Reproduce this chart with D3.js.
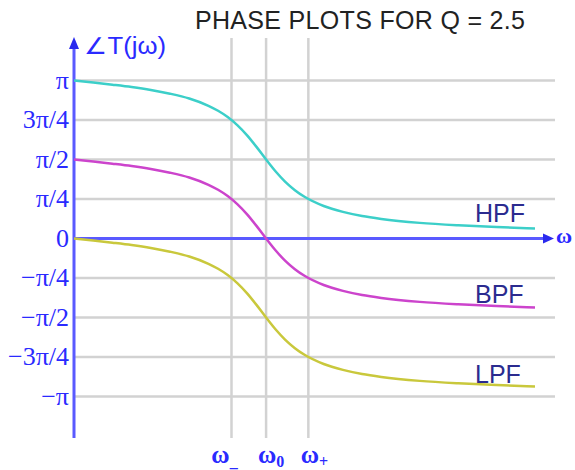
<!DOCTYPE html>
<html>
<head>
<meta charset="utf-8">
<script src="https://cdn.jsdelivr.net/npm/d3@7"></script>
<style>
  body { margin: 0; background: #fff; }
  svg { display: block; }
</style>
</head>
<body>
<div id="chart"></div>
<script>
// frequency samples (w / w0) and phase, in degrees
var omega = [0, 0.1, 0.2, 0.3, 0.4, 0.5, 0.6, 0.7, 0.75, 0.8, 0.85, 0.9, 0.95, 1.0,
             1.05, 1.1, 1.15, 1.2, 1.3, 1.4, 1.5, 1.6, 1.8, 2.0, 2.2, 2.4];
var lpfPhase = [0, -2.3, -4.8, -7.5, -10.8, -15, -20.5, -28.8, -34.5, -41.6, -50.8, -62.2, -75.6, -90,
                -103.7, -115.5, -125, -132.5, -143, -149.7, -154.4, -157.7, -162.2, -165, -167, -168.6];
var bpfPhase = [90, 87.7, 85.2, 82.5, 79.2, 75, 69.5, 61.2, 55.5, 48.4, 39.2, 27.8, 14.4, 0,
                -13.7, -25.5, -35, -42.5, -53, -59.7, -64.4, -67.7, -72.2, -75, -77, -78.6];
var hpfPhase = [180, 177.7, 175.2, 172.5, 169.2, 165, 159.5, 151.2, 145.5, 138.4, 129.2, 117.8, 104.4, 90,
                76.3, 64.5, 55, 47.5, 37, 30.3, 25.6, 22.3, 17.8, 15, 13, 11.4];

var seriesNames = ["HPF", "BPF", "LPF"];
var seriesColors = ["#3ccfc9", "#cc44cc", "#c9c83c"];

var yTickValues = [180, 135, 90, 45, 0, -45, -90, -135, -180];
var yTickLabels = ["\u03c0", "3\u03c0/4", "\u03c0/2", "\u03c0/4", "0", "\u2212\u03c0/4", "\u2212\u03c0/2", "\u22123\u03c0/4", "\u2212\u03c0"];

var xMarks = [0.82, 1.0, 1.22];           // w-, w0, w+
var xMarkSubs = ["_", "0", "+"];

var width = 575, height = 470;
var blue = "#5a5aff";

var svg = d3.select("#chart").append("svg")
    .attr("width", width)
    .attr("height", height);

var x = d3.scaleLinear().domain([0, 2.4]).range([74, 535]);
var y = d3.scaleLinear().domain([-180, 180]).range([396.5, 80.5]);

var yTop = 38, yBottom = 438, gridRight = 555;

// horizontal grid
svg.append("g")
    .selectAll("line")
    .data(yTickValues.filter(function (d) { return d !== 0; }))
    .enter().append("line")
    .attr("x1", x(0)).attr("x2", gridRight)
    .attr("y1", function (d) { return y(d); })
    .attr("y2", function (d) { return y(d); })
    .attr("stroke", "#d2d2d2")
    .attr("stroke-width", 2.5);

// vertical grid
svg.append("g")
    .selectAll("line")
    .data(xMarks)
    .enter().append("line")
    .attr("x1", function (d) { return x(d); })
    .attr("x2", function (d) { return x(d); })
    .attr("y1", yTop).attr("y2", yBottom)
    .attr("stroke", "#d2d2d2")
    .attr("stroke-width", 2.5);

// axes
svg.append("line")
    .attr("x1", x(0)).attr("x2", 546)
    .attr("y1", y(0)).attr("y2", y(0))
    .attr("stroke", blue).attr("stroke-width", 3);
svg.append("path")
    .attr("d", "M554," + y(0) + " L543," + (y(0) - 5) + " L543," + (y(0) + 5) + " Z")
    .attr("fill", "#2a2aee");

svg.append("line")
    .attr("x1", x(0)).attr("x2", x(0))
    .attr("y1", 46).attr("y2", yBottom)
    .attr("stroke", blue).attr("stroke-width", 3);
svg.append("path")
    .attr("d", "M" + x(0) + ",37 L" + (x(0) - 5) + ",49 L" + (x(0) + 5) + ",49 Z")
    .attr("fill", "#2a2aee");

// curves
var line = d3.line()
    .x(function (d) { return x(d[0]); })
    .y(function (d) { return y(d[1]); })
    .curve(d3.curveMonotoneX);

[hpfPhase, bpfPhase, lpfPhase].forEach(function (vals, i) {
    svg.append("path")
        .datum(d3.zip(omega, vals))
        .attr("d", line)
        .attr("fill", "none")
        .attr("stroke", seriesColors[i])
        .attr("stroke-width", 2.5);
});

// curve labels
var labelY = [222, 303, 383];
svg.append("g")
    .selectAll("text")
    .data(seriesNames)
    .enter().append("text")
    .attr("x", 475)
    .attr("y", function (d, i) { return labelY[i]; })
    .attr("fill", "#2b2b8f")
    .attr("font-family", "Liberation Sans, Arial, sans-serif")
    .attr("font-size", 25)
    .text(function (d) { return d; });

// y tick labels
svg.append("g")
    .selectAll("text")
    .data(yTickValues)
    .enter().append("text")
    .attr("x", 69)
    .attr("y", function (d) { return y(d) + 8; })
    .attr("text-anchor", "end")
    .attr("fill", "#2a2aff")
    .attr("font-family", "Liberation Serif, Times New Roman, serif")
    .attr("font-size", 26)
    .text(function (d, i) { return yTickLabels[i]; });

// x tick labels
var xLab = svg.append("g")
    .selectAll("text")
    .data(xMarks)
    .enter().append("text")
    .attr("x", function (d, i) { return x(d) + [-7, 5, 6][i]; })
    .attr("y", 463)
    .attr("text-anchor", "middle")
    .attr("fill", "#2a2aff")
    .attr("font-family", "Liberation Serif, Times New Roman, serif")
    .attr("font-weight", "bold")
    .attr("font-size", 25);
xLab.append("tspan").text("\u03c9");
xLab.append("tspan")
    .attr("font-size", 16)
    .attr("dy", 4)
    .text(function (d, i) { return xMarkSubs[i]; });

// axis titles
svg.append("text")
    .attr("x", 84).attr("y", 54)
    .attr("fill", "#2a2aff")
    .attr("font-family", "Liberation Sans, Arial, sans-serif")
    .attr("font-size", 23)
    .attr("textLength", 82)
    .attr("lengthAdjust", "spacingAndGlyphs")
    .text("\u2220T(j\u03c9)");

svg.append("text")
    .attr("x", 556).attr("y", 243)
    .attr("fill", "#2a2aff")
    .attr("font-family", "Liberation Serif, Times New Roman, serif")
    .attr("font-weight", "bold")
    .attr("font-size", 22)
    .text("\u03c9");

svg.append("text")
    .attr("x", 195).attr("y", 29)
    .attr("fill", "#222")
    .attr("font-family", "Liberation Sans, Arial, sans-serif")
    .attr("font-size", 25)
    .attr("textLength", 330)
    .text("PHASE PLOTS FOR Q = 2.5");
</script>
</body>
</html>
